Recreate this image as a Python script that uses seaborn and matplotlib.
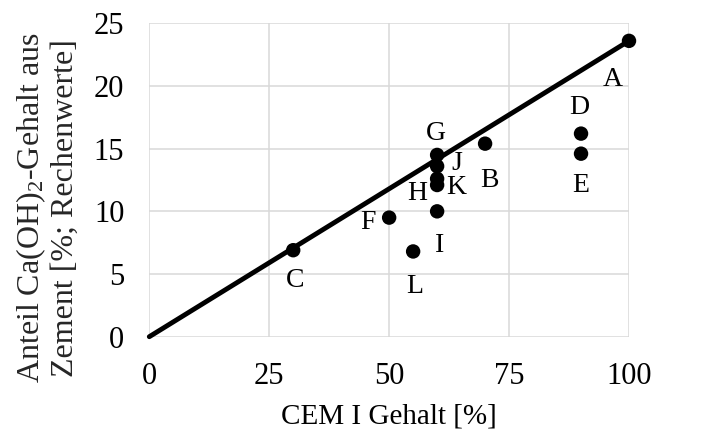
import matplotlib
matplotlib.use("Agg")
import matplotlib.pyplot as plt
import seaborn as sns
import pandas as pd

# Cement mixes: CEM I content vs. computed Ca(OH)2 share
labels = ["A", "B", "C", "D", "E", "F", "G", "H", "I", "J", "K", "L"]
cem_i = [100, 70, 30, 90, 90, 50, 60, 60, 60, 60, 60, 55]
ca_oh2 = [23.6, 15.4, 6.9, 16.2, 14.6, 9.5, 14.5, 12.6, 10.0, 13.6, 12.1, 6.8]

# label offsets in pixels (dx right, dy down)
label_dx = [-16, 4, 2, -2, 0, -21, -1, -20, 2, 20, 19, 2]
label_dy = [39, 37, 30, -26, 32, 5, -21, 15, 34, -3, 2, 35]

# reference line through the origin
line_x = [0, 100]
line_y = [0, 23.6]

x_ticks = [0, 25, 50, 75, 100]
y_ticks = [0, 5, 10, 15, 20, 25]

sns.set_theme(style="white")
plt.rcParams["font.family"] = ["Liberation Serif", "DejaVu Serif"]
plt.rcParams["mathtext.fontset"] = "custom"
plt.rcParams["mathtext.rm"] = "Liberation Serif"
plt.rcParams["mathtext.it"] = "Liberation Serif:italic"

df = pd.DataFrame({"cem": cem_i, "ca": ca_oh2, "lab": labels})
line_df = pd.DataFrame({"x": line_x, "y": line_y})

fig = plt.figure(figsize=(7.08, 4.32), dpi=100)
ax = fig.add_axes([149.3 / 708, 1 - 336.7 / 432, (629 - 149.3) / 708, (336.7 - 23.3) / 432])

sns.lineplot(data=line_df, x="x", y="y", ax=ax, color="black", linewidth=3.5,
             zorder=3, clip_on=False)
sns.scatterplot(data=df, x="cem", y="ca", ax=ax, color="black", s=108,
                edgecolor="none", zorder=4, clip_on=False)

px = 0.72
for lab, x, y, dx, dy in zip(labels, cem_i, ca_oh2, label_dx, label_dy):
    ax.annotate(lab, (x, y), xytext=(dx * px, -dy * px), textcoords="offset points",
                ha="center", va="center", fontsize=20, color="black")

ax.set_xlim(0, 100)
ax.set_ylim(0, 25)
ax.set_xticks(x_ticks)
ax.set_yticks(y_ticks)
ax.grid(True, color="#d9d9d9", linewidth=1.1)
ax.set_axisbelow(True)
for s in ax.spines.values():
    s.set_visible(False)
ax.tick_params(axis="both", length=0, labelsize=22, colors="black")
ax.tick_params(axis="x", pad=18.5)
ax.tick_params(axis="y", pad=18)

ax.set_xlabel("CEM I Gehalt [%]", fontsize=21, color="black", labelpad=9)
ax.set_ylabel("")
fig.text(47 / 708, 1 - 208 / 432,
         "Anteil Ca(OH)$_{\\mathrm{2}}$-Gehalt aus\nZement [%; Rechenwerte]",
         rotation=90, ha="center", va="center", fontsize=23, linespacing=1.15,
         multialignment="center")

fig.savefig("out.png", dpi=100)
